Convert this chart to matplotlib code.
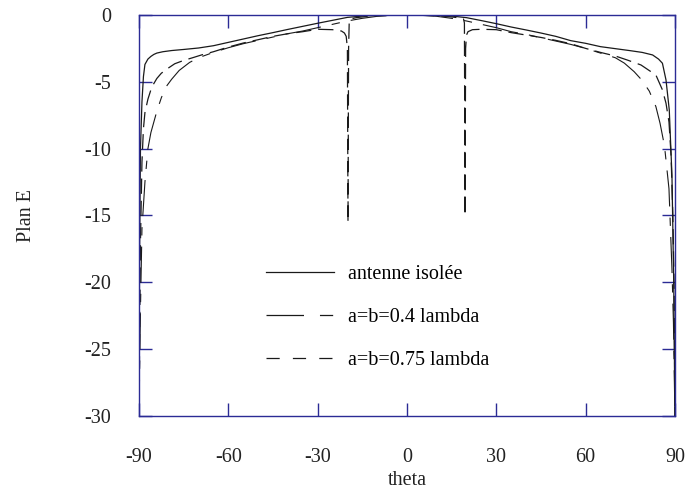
import matplotlib
matplotlib.use("Agg")
import matplotlib.pyplot as plt
from matplotlib.lines import Line2D

plt.rcParams['font.family'] = ['Liberation Serif', 'DejaVu Serif']
plt.rcParams['lines.scale_dashes'] = False
plt.rcParams['axes.unicode_minus'] = False

# antenne isolée
theta_iso = [-90, -89.8, -89.5, -89, -88.5, -88, -87, -86, -85, -84, -82, -79, -75, -70,
             -65, -60, -55, -50, -45, -40, -35, -30, -25, -20, -15, -10, -5, 0,
             5, 10, 15, 20, 25, 30, 35, 40, 45, 50, 55, 60, 65, 70, 75, 79, 82.5,
             84.5, 85.8, 87, 88.1, 89, 89.6, 90]
gain_iso = [-30, -18, -10, -6.5, -4.6, -3.7, -3.3, -3.1, -2.95, -2.85, -2.75, -2.66, -2.58, -2.47,
            -2.3, -2.05, -1.8, -1.55, -1.32, -1.08, -0.85, -0.62, -0.4, -0.18, -0.08, -0.03, -0.01, 0,
            -0.01, -0.03, -0.08, -0.2, -0.42, -0.65, -0.9, -1.12, -1.35, -1.6, -1.92, -2.12, -2.37,
            -2.52, -2.67, -2.8, -2.99, -3.3, -3.61, -4.86, -7.1, -12, -20, -30]

# a=b=0.4 lambda
theta_04 = [-90, -89.5, -89, -88, -87, -86, -85, -84, -82.5, -81, -79, -76.5, -73, -70,
            -65, -60, -55, -50, -45, -40, -35, -30, -25, -20, -15, -10, -5, 0,
            5, 10, 15, 20, 25, 30, 35, 40, 45, 50, 55, 60, 65, 70, 73, 76.3, 79,
            81.4, 83.6, 85, 86.5, 88, 89, 89.5, 90]
gain_04 = [-30, -22, -16, -12.5, -10, -8.8, -8.0, -7.2, -6.2, -5.4, -4.8, -4.15, -3.55, -3.2,
           -2.8, -2.45, -2.15, -1.9, -1.65, -1.4, -1.2, -0.95, -0.7, -0.45, -0.25, -0.1, -0.03, 0,
           -0.03, -0.1, -0.25, -0.45, -0.7, -0.95, -1.25, -1.45, -1.7, -1.95, -2.2, -2.5, -2.85,
           -3.2, -3.6, -4.24, -4.9, -5.7, -6.85, -8.1, -9.8, -13, -19, -23, -30]

# a=b=0.75 lambda
theta_075 = [-90, -89.5, -89, -88.5, -88, -87, -86, -85.3, -84, -82.5, -80, -78, -75, -72,
             -69, -65, -60, -55, -50, -45, -40, -35, -30, -25, -22, -21, -20.4, -20.0,
             -19.8, -19.6, -19.4, -19.0, -17, -14, -10, -5, 0,
             5, 10, 14, 17, 19.0, 19.3, 19.5, 19.7, 20.0, 20.5, 22, 25, 30, 35, 40, 45,
             50, 55, 60, 65, 70, 74, 78.6, 81, 83.6, 85.8, 87, 88, 88.7, 89.3, 89.7, 90]
gain_075 = [-30, -17, -11, -8.5, -7.3, -6.3, -5.6, -5.24, -4.75, -4.36, -3.95, -3.65, -3.4, -3.2,
            -2.99, -2.75, -2.4, -2.1, -1.85, -1.6, -1.4, -1.25, -1.07, -1.1, -1.2, -1.35, -1.6, -2.5,
            -15.5, -2.5, -0.6, -0.3, -0.2, -0.12, -0.06, -0.02, 0,
            -0.02, -0.06, -0.12, -0.2, -0.3, -0.6, -15.0, -2.5, -1.5, -1.25, -1.1, -1.07, -1.1,
            -1.32, -1.5, -1.68, -1.9, -2.15, -2.5, -2.8, -3.07, -3.37, -3.74, -4.1, -4.49, -5.6,
            -6.6, -8.0, -10.5, -15, -20, -30]

navy = '#2b2b95'
ink = '#1a1a1a'

fig = plt.figure(figsize=(6.88, 4.91), dpi=100)
ax = fig.add_axes([0.202, 0.1527, 0.779, 0.8168])

ax.plot(theta_iso, gain_iso, color=ink, lw=0.9, ls='-')
ax.plot(theta_04, gain_04, color=ink, lw=0.8, ls=(0, (26, 8, 6, 8)))
ax.plot(theta_075, gain_075, color=ink, lw=0.9, ls=(0, (11, 5)))

ax.set_xlim(-90, 90)
ax.set_ylim(-30, 0)
ax.set_xticks([-90, -60, -30, 0, 30, 60, 90])
ax.set_yticks([-30, -25, -20, -15, -10, -5, 0])

for s in ax.spines.values():
    s.set_color(navy)
    s.set_linewidth(1.0)
ax.tick_params(direction='in', length=9.5, width=1.0, color=navy,
               top=True, right=True, labelsize=14.5, labelcolor='#222222')
ax.tick_params(axis='y', pad=20)
ax.tick_params(axis='x', pad=23)

ax.set_xlabel('theta', fontsize=14.5, color='#222222', va='center')
ax.xaxis.set_label_coords(0.5, -0.162)
ax.set_ylabel('Plan E', fontsize=14.5, color='#222222', va='center')
ax.yaxis.set_label_coords(-0.209, 0.5)

# légende avec ses propres motifs de tirets
handles = [
    Line2D([], [], color=ink, lw=0.9, ls='-'),
    Line2D([], [], color=ink, lw=0.9, ls=(0, (27, 11.5, 9.5, 11.5))),
    Line2D([], [], color=ink, lw=0.9, ls=(0, (9.5, 9.5))),
]
labels = ['antenne isolée', 'a=b=0.4 lambda', 'a=b=0.75 lambda']
ax.legend(handles, labels, loc='upper left', bbox_to_anchor=(0.237, 0.377),
          frameon=False, fontsize=14.5, handlelength=3.4, handletextpad=0.65,
          labelspacing=1.2, borderpad=0, borderaxespad=0)

fig.savefig('out.png', dpi=100)
